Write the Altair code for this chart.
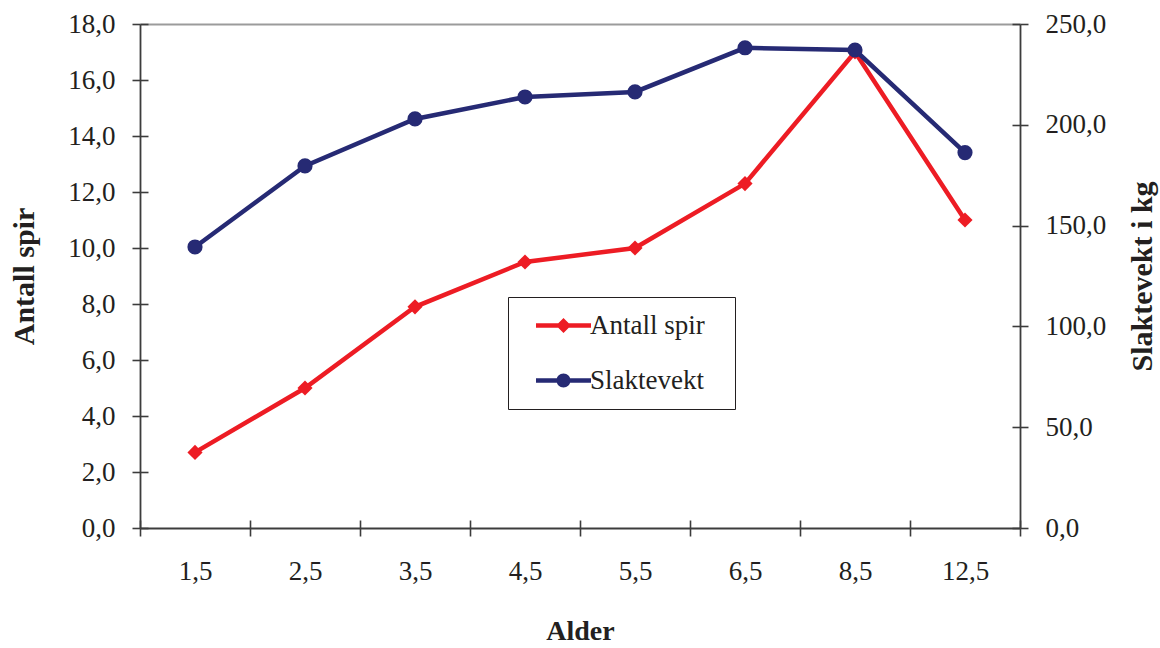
import altair as alt
import pandas as pd

# Age classes on the category axis
alder = ["1,5", "2,5", "3,5", "4,5", "5,5", "6,5", "8,5", "12,5"]
# Number of spikes (left axis)
antall_spir = [2.7, 5.0, 7.9, 9.5, 10.0, 12.3, 17.0, 11.0]
# Carcass weight in kg (right axis)
slaktevekt = [139.4, 179.6, 202.9, 213.8, 216.3, 238.2, 237.1, 186.2]
serier = ["Antall spir", "Slaktevekt"]
venstre_ticks = [0, 2, 4, 6, 8, 10, 12, 14, 16, 18]
hoyre_ticks = [0, 50, 100, 150, 200, 250]

RED = "#ED1C24"
NAVY = "#262A74"
INK = "#231F20"
AXIS = "#3C3C3C"
FONT = "Liberation Serif"
W, H = 880, 504

df = pd.DataFrame({"alder": alder, "antall": antall_spir, "slakt": slaktevekt})
comma = "replace(format(datum.value, '.1f'), '.', ',')"

xscale = alt.Scale(type="band", domain=alder, paddingInner=0, paddingOuter=0)
yl_scale = alt.Scale(domain=[0, 18], nice=False)
yr_scale = alt.Scale(domain=[0, 250], nice=False)

# Red series with diamond markers, left axis and the category axis
rod = alt.Chart(df).mark_line(
    color=RED, strokeWidth=4.5,
    point=alt.OverlayMarkDef(shape="diamond", size=230, filled=True, color=RED, opacity=1),
).encode(
    x=alt.X("alder:N", scale=xscale, axis=alt.Axis(
        orient="bottom", title="Alder", tickBand="extent", labelAngle=0,
        labelPadding=22, titlePadding=33)),
    y=alt.Y("antall:Q", scale=yl_scale, axis=alt.Axis(
        orient="left", values=venstre_ticks, labelExpr=comma, title="Antall spir",
        labelPadding=17, titlePadding=28, titleFontSize=30)),
)

# Navy series with circle markers on the right axis
bla = alt.Chart(df).mark_line(
    color=NAVY, strokeWidth=4.5,
    point=alt.OverlayMarkDef(shape="circle", size=230, filled=True, color=NAVY, opacity=1),
).encode(
    x=alt.X("alder:N", scale=xscale, axis=None),
    y=alt.Y("slakt:Q", scale=yr_scale, axis=alt.Axis(
        orient="right", values=hoyre_ticks, labelExpr=comma, title="Slaktevekt i kg",
        titleAngle=270, titleBaseline="top", labelPadding=17, titlePadding=22,
        titleFontSize=30)),
)

# Inward half of the crossing ticks: left and bottom axes
inn_venstre = alt.Chart(df).mark_point(opacity=0).encode(
    x=alt.X("alder:N", scale=xscale, axis=alt.Axis(
        orient="top", offset=-H, tickBand="extent", labels=False, domain=False, title=None)),
    y=alt.Y("antall:Q", scale=yl_scale, axis=alt.Axis(
        orient="right", offset=-W, values=venstre_ticks, labels=False, domain=False, title=None)),
)

# Inward half of the right axis ticks, plus the light top border
inn_hoyre = alt.Chart(df).mark_point(opacity=0).encode(
    x=alt.X("alder:N", scale=xscale, axis=alt.Axis(
        orient="top", ticks=False, labels=False, domain=True, domainColor="#9B9B9B",
        domainWidth=2, title=None)),
    y=alt.Y("slakt:Q", scale=yr_scale, axis=alt.Axis(
        orient="left", offset=-W, values=hoyre_ticks, labels=False, domain=False, title=None)),
)

# Legend: each symbol is a short line with its marker on top
linje = "M-2.75,-0.22H2.75V0.22H-2.75Z"
sym_diamant = linje + " M0,-0.75L0.75,0L0,0.75L-0.75,0Z"
sym_sirkel = linje + " M-0.7,0A0.7,0.7 0 1,1 0.7,0A0.7,0.7 0 1,1 -0.7,0Z"

# The hidden title on the right only widens the legend frame
tegnforklaring = alt.Legend(
    title="x", titleOrient="right", titleOpacity=0, titleFontSize=20, titlePadding=3,
    orient="none", legendX=368, legendY=273, direction="vertical",
    padding=15, strokeColor=INK, fillColor="white",
    symbolSize=400, symbolOffset=27, labelOffset=13, rowPadding=27,
    symbolStrokeWidth=0, symbolOpacity=1,
    labelFont=FONT, labelFontSize=27, labelColor=INK,
)

forklaring = alt.Chart(pd.DataFrame({"serie": serier})).transform_filter(
    "datum.serie == 'ingen'"
).mark_point(filled=True, opacity=1).encode(
    color=alt.Color("serie:N", scale=alt.Scale(domain=serier, range=[RED, NAVY]),
                    legend=tegnforklaring),
    shape=alt.Shape("serie:N", scale=alt.Scale(domain=serier, range=[sym_diamant, sym_sirkel]),
                    legend=tegnforklaring),
)

chart = alt.layer(inn_venstre, inn_hoyre, rod, bla, forklaring).resolve_scale(
    y="independent"
).resolve_axis(
    x="independent", y="independent"
).properties(
    width=W, height=H,
    padding={"left": 140, "top": 24, "right": 140, "bottom": 120},
    autosize=alt.AutoSizeParams(type="none"),
    background="white",
).configure_view(
    stroke="transparent"
).configure_axis(
    grid=False,
    domainColor=AXIS, domainWidth=1.8,
    tickColor=AXIS, tickWidth=1.6, tickSize=8,
    labelFont=FONT, labelFontSize=27, labelColor=INK,
    titleFont=FONT, titleFontSize=28, titleFontWeight="bold", titleColor=INK,
)

chart.save("out.html", embed_options={"renderer": "svg", "actions": False})
